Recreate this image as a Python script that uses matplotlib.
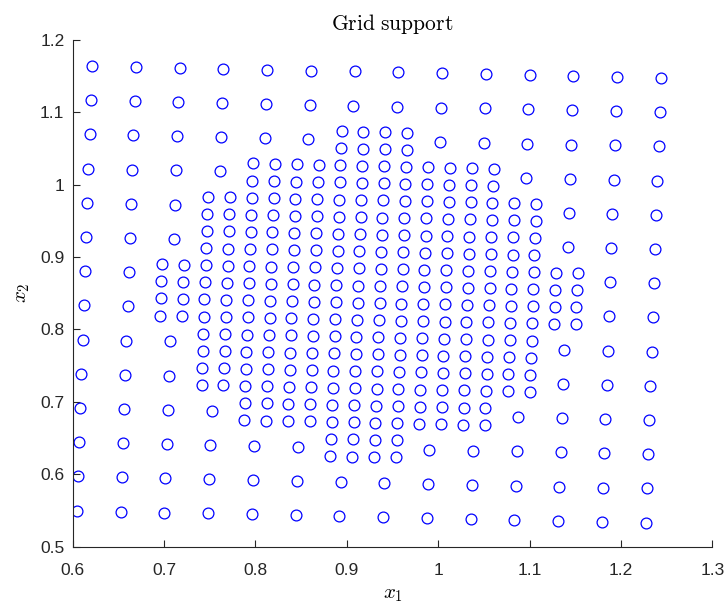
import numpy as np
import matplotlib
matplotlib.use("Agg")
import matplotlib.pyplot as plt

plt.rcParams['mathtext.fontset'] = 'cm'
plt.rcParams['font.family'] = ['Liberation Sans', 'DejaVu Sans']

# Coarse lattice (cell centres)
n_rows = 14
n_cols = 14
origin = (0.6211, 1.1637)          # top-left coarse point
col_step = (0.04790, -0.00127)     # one column to the right
row_step = (-0.00128, -0.04723)    # one row down

# Refined coarse cells per row (row 0 = top): inclusive column ranges, None = no refinement
refined_ranges = [None, None, (6, 7), (4, 9), (3, 10), (3, 10), (2, 11),
                  (2, 11), (3, 10), (3, 10), (4, 9), (6, 7), None, None]

xs, ys = [], []
for r in range(n_rows):
    rng = refined_ranges[r]
    for c in range(n_cols):
        cx = origin[0] + c * col_step[0] + r * row_step[0]
        cy = origin[1] + c * col_step[1] + r * row_step[1]
        if rng is not None and rng[0] <= c <= rng[1]:
            for dc in (-0.25, 0.25):
                for dr in (-0.25, 0.25):
                    xs.append(cx + dc * col_step[0] + dr * row_step[0])
                    ys.append(cy + dc * col_step[1] + dr * row_step[1])
        else:
            xs.append(cx)
            ys.append(cy)

fig = plt.figure(figsize=(7.28, 6.03), dpi=100)
ax = fig.add_axes([0.0999, 0.0934, 0.8785, 0.8408])
ax.plot(xs, ys, 'o', mfc='none', mec=(0, 0, 1), mew=0.9, ms=7.8, ls='none')

ax.set_xlim(0.6, 1.3)
ax.set_ylim(0.5, 1.2)
ax.set_xticks(np.arange(0.6, 1.31, 0.1))
ax.set_yticks(np.arange(0.5, 1.21, 0.1))
ax.set_xticklabels(['0.6', '0.7', '0.8', '0.9', '1', '1.1', '1.2', '1.3'])
ax.set_yticklabels(['0.5', '0.6', '0.7', '0.8', '0.9', '1', '1.1', '1.2'])

axcol = '#262626'
for s in ['top', 'right']:
    ax.spines[s].set_visible(False)
for s in ['left', 'bottom']:
    ax.spines[s].set_color(axcol)
    ax.spines[s].set_linewidth(0.8)
ax.tick_params(direction='in', length=4.8, width=0.8, color=axcol,
               labelcolor=axcol, labelsize=12.5)
ax.tick_params(axis='x', pad=12)
ax.tick_params(axis='y', pad=6)

ax.set_title(r'$\mathrm{Grid\ support}$', fontsize=15.5, color='black', pad=7)
ax.set_xlabel(r'$x_1$', fontsize=15, labelpad=5)
ax.set_ylabel(r'$x_2$', fontsize=15, labelpad=6)

fig.savefig('out.png', dpi=100)
